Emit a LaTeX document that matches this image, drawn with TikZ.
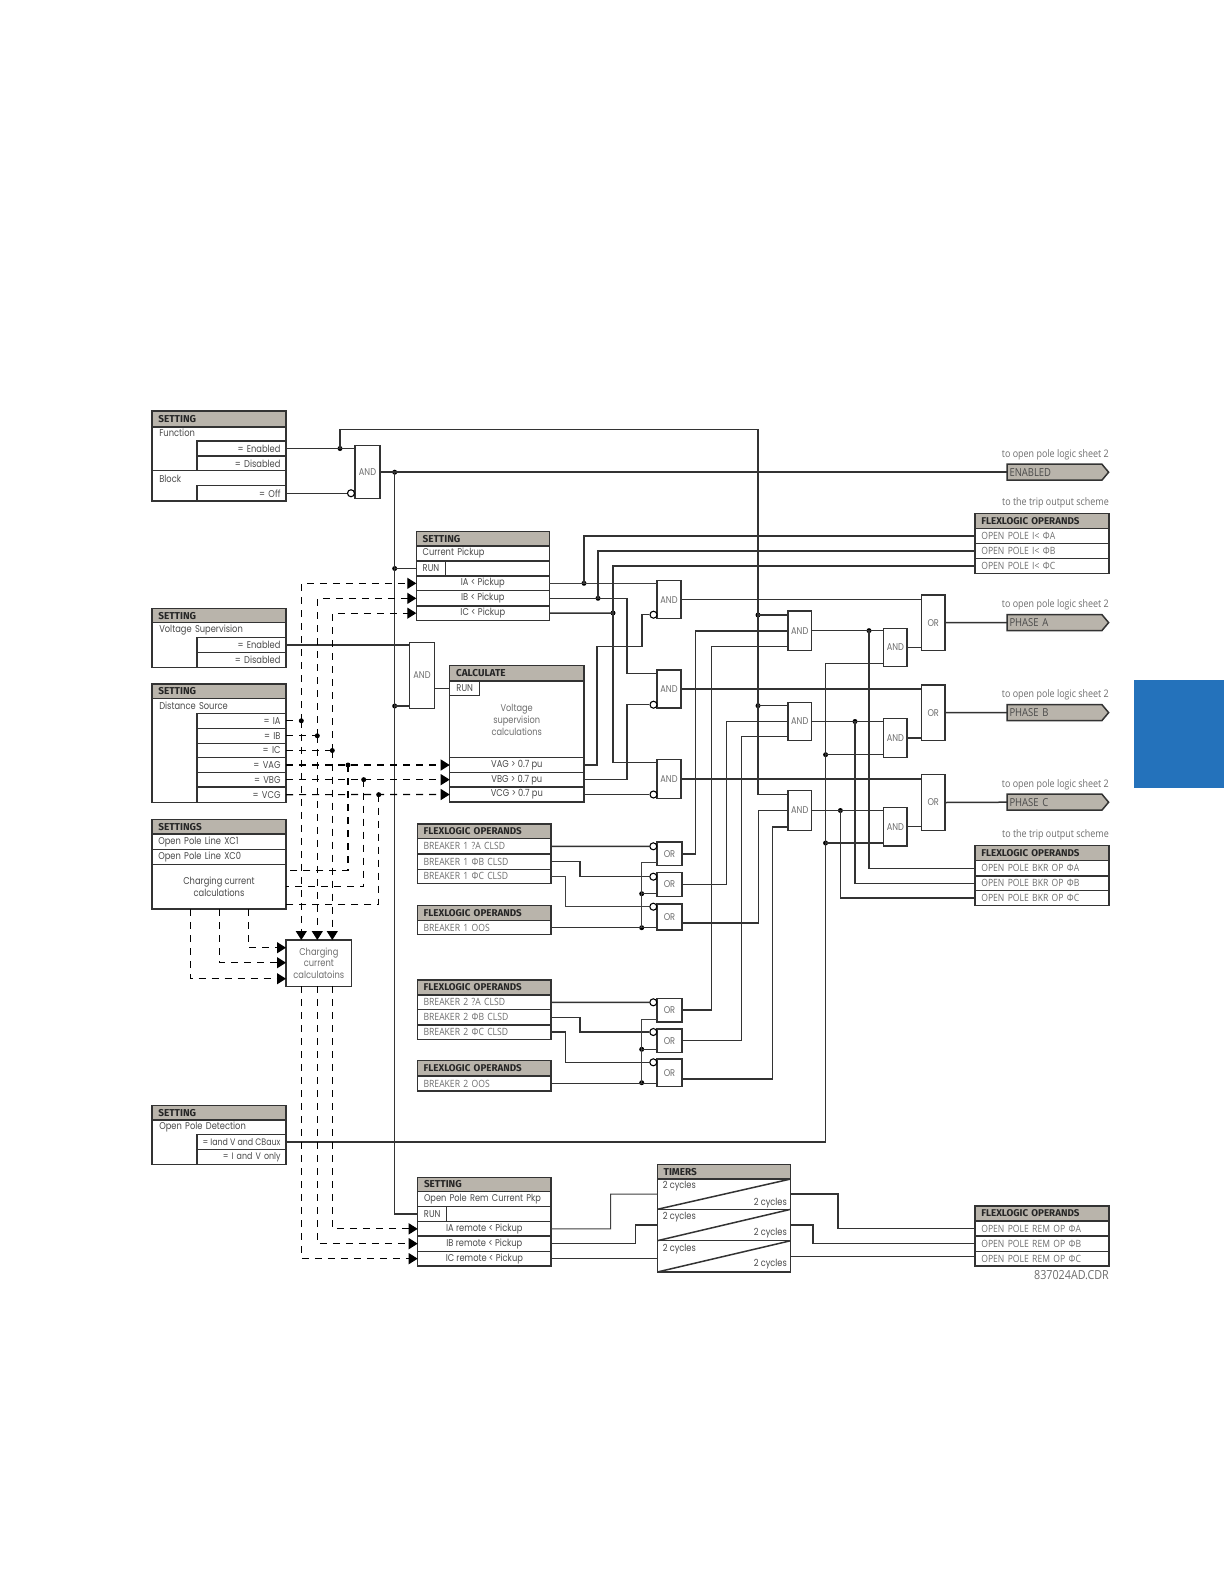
\documentclass[tikz,border=0pt]{standalone}
\usepackage{fontspec}
\setmainfont{Poppins}[FakeStretch=0.84]
\newfontfamily\flfont{Open Sans}[FakeStretch=0.86]
\newfontfamily\hdfont{Fira Sans}[BoldFont={Fira Sans Bold}]
\usetikzlibrary{arrows.meta,shapes.symbols}
\definecolor{hdrtan}{HTML}{B9B4AB}
\definecolor{txtg}{HTML}{4A4A4A}
\definecolor{txtl}{HTML}{6E6E6E}
\definecolor{tabblue}{HTML}{2472BB}
\newcommand{\ncell}[7][]{%
  \pgfmathsetmacro\cw{#5-#3}\pgfmathsetmacro\ch{#6-#4}%
  \pgfmathsetmacro\cxx{(#3+#5)/2}\pgfmathsetmacro\cyy{(#4+#6)/2}%
  \pgfmathsetmacro\ct{\cw-11}%
  \node[cel,minimum width={\cw pt},minimum height={\ch pt},#1] (#2) at (\cxx,\cyy) {#7};}
\tikzset{
  cel/.style={draw=black!80,line width=1.5pt,fill=white,inner sep=0pt,outer sep=0pt,text=txtg,font=\fontsize{9.9}{11.5}\selectfont},
  alignL/.style={text width={\ct pt},align=left,execute at begin node=\hspace*{0.8pt}},
  alignR/.style={text width={\ct pt},align=right},
  alignC/.style={align=center},
  hdrcell/.style={alignL,fill=hdrtan,text=black!85,font=\hdfont\bfseries\fontsize{10}{12}\selectfont},
  flhdr/.style={alignL,fill=hdrtan,text=black!85,font=\hdfont\bfseries\fontsize{9.8}{12}\selectfont},
  flrow/.style={alignL,text=txtl,font=\flfont\fontsize{10}{11}\selectfont},
  gate/.style={alignC,text=txtl,font=\fontsize{9.8}{10}\selectfont},
  wire/.style={draw=black!80,line width=1.5pt,line join=miter},
  thinw/.style={draw=black!75,line width=1pt},
  dashw/.style={draw=black,line width=1.2pt,dash pattern=on 7pt off 6pt},
  dasharrow/.style={dashw,-{Triangle[length=9pt,width=11pt]}},
  dot/.style={circle,fill=black,inner sep=0pt,minimum size=5pt},
  bub/.style={circle,draw=black,fill=white,line width=1.1pt,inner sep=0pt,minimum size=7pt},
  lab/.style={inner sep=0pt,text=txtg,font=\fontsize{9.8}{12}\selectfont},
  flab/.style={inner sep=0pt,anchor=east,text=txtl,font=\flfont\fontsize{10.4}{11}\selectfont},
  tagnode/.style={signal,signal to=east,signal pointer angle=100,draw=black!80,line width=1.5pt,fill=hdrtan,inner sep=0pt,outer sep=0pt,minimum width=101.5pt,minimum height=16pt,text width=90pt,align=left,text=txtg,font=\flfont\fontsize{11}{12}\selectfont},
}
\begin{document}
\begin{tikzpicture}[x=1pt,y=-1pt]
\useasboundingbox (0,0) rectangle (1224,1584);
\fill[white] (0,0) rectangle (1224,1584);
\fill[tabblue] (1134,680) rectangle (1224,788);
% ---------- SETTING function
\ncell[hdrcell]{s1h}{152}{411}{286}{427}{SETTING}
\ncell{s1f}{152}{427}{286}{470.7}{}
\ncell[alignL,draw=none,fill=none]{s1ft}{153}{426.5}{285}{439.5}{Function}
\ncell[alignR]{fEn}{197}{441}{286}{456}{= Enabled}
\ncell[alignR]{fDis}{197}{456}{286}{470.7}{= Disabled}
\ncell{s1b}{152}{470.7}{286}{501}{}
\ncell[alignL,draw=none,fill=none]{s1bt}{153}{472}{285}{486}{Block}
\ncell[alignR]{fOff}{197}{485.5}{286}{501}{= Off}
% ---------- Voltage supervision
\ncell[hdrcell]{s2h}{152}{608.7}{286}{622.7}{SETTING}
\ncell{s2f}{152}{622.7}{286}{667.3}{}
\ncell[alignL,draw=none,fill=none]{s2t}{153}{623.5}{285}{637}{Voltage Supervision}
\ncell[alignR]{vsEn}{197}{637.7}{286}{652.7}{= Enabled}
\ncell[alignR]{vsDis}{197}{652.7}{286}{667.3}{= Disabled}
% ---------- Distance source
\ncell[hdrcell]{s3h}{152}{684}{286}{698.3}{SETTING}
\ncell{s3f}{152}{698.3}{286}{802.3}{}
\ncell[alignL,draw=none,fill=none]{s3t}{153}{699}{285}{713}{Distance Source}
\ncell[alignR]{dIA}{197}{713.3}{286}{728.3}{= IA}
\ncell[alignR]{dIB}{197}{728.3}{286}{743.3}{= IB}
\ncell[alignR]{dIC}{197}{743.3}{286}{757.7}{= IC}
\ncell[alignR]{dVA}{197}{757.7}{286}{772.3}{= VAG}
\ncell[alignR]{dVB}{197}{772.3}{286}{787}{= VBG}
\ncell[alignR]{dVC}{197}{787}{286}{802.3}{= VCG}
% ---------- Settings XC
\ncell[hdrcell]{s4h}{152}{819.7}{286}{834}{SETTINGS}
\ncell[alignL]{s4a}{152}{834}{286}{849.3}{Open Pole Line XC1}
\ncell[alignL]{s4b}{152}{849.3}{286}{864.3}{Open Pole Line XC0}
\ncell[alignC]{s4c}{152}{864.3}{286}{909}{Charging current\\calculations}
% ---------- Charging box
\ncell[alignC,text=txtl]{chg}{286}{940}{351.7}{986.3}{Charging\\current\\calculatoins}
% ---------- Open pole detection
\ncell[hdrcell]{s5h}{152}{1105.3}{286}{1120}{SETTING}
\ncell{s5f}{152}{1120}{286}{1164.3}{}
\ncell[alignL,draw=none,fill=none]{s5t}{153}{1120.5}{285}{1134}{Open Pole Detection}
\ncell[alignC,font=\fontsize{9.4}{11}\selectfont]{oIV}{197}{1134.3}{286}{1149.3}{\makebox[78pt][r]{= Iand V and CBaux}}
\ncell[alignR,font=\fontsize{9.4}{11}\selectfont]{oOnly}{197}{1149.3}{286}{1164.3}{= I and V only}
% ---------- Current pickup
\ncell[hdrcell]{pkh}{416.3}{531.7}{549.3}{546}{SETTING}
\ncell[alignL]{pkt}{416.3}{546}{549.3}{561}{Current Pickup}
\ncell{pkr}{416.3}{561}{549.3}{576}{}
\ncell[alignC]{pkRun}{416.3}{561}{445.7}{576}{RUN}
\ncell[alignC]{pkA}{416.3}{576}{549.3}{590.7}{IA < Pickup}
\ncell[alignC]{pkB}{416.3}{590.7}{549.3}{606}{IB < Pickup}
\ncell[alignC]{pkC}{416.3}{606}{549.3}{620.3}{IC < Pickup}
% ---------- Calculate
\ncell[hdrcell]{vch}{449.7}{665.7}{584}{681}{CALCULATE}
\ncell{vcb}{449.7}{681}{584}{757.7}{}
\node[lab,align=center,text=txtl] (vct) at (516.7,719.5) {Voltage\\supervision\\calculations};
\ncell[alignC]{vcRun}{449.7}{681}{479.7}{695.7}{RUN}
\ncell[alignC]{vA}{449.7}{757.7}{584}{772.3}{VAG > 0.7 pu}
\ncell[alignC]{vB}{449.7}{772.3}{584}{787}{VBG > 0.7 pu}
\ncell[alignC]{vC}{449.7}{787}{584}{802}{VCG > 0.7 pu}
% ---------- Breaker operands
\ncell[flhdr]{b1h}{417.3}{824}{551}{838.7}{FLEXLOGIC OPERANDS}
\ncell[flrow]{b1a}{417.3}{838.7}{551}{854}{BREAKER 1 ?A CLSD}
\ncell[flrow]{b1b}{417.3}{854}{551}{869.3}{BREAKER 1 ΦB CLSD}
\ncell[flrow]{b1c}{417.3}{869.3}{551}{883.3}{BREAKER 1 ΦC CLSD}
\ncell[flhdr]{b1oh}{417.3}{905.7}{551}{920.7}{FLEXLOGIC OPERANDS}
\ncell[flrow]{b1o}{417.3}{920.7}{551}{934.7}{BREAKER 1 OOS}
\ncell[flhdr]{b2h}{417.3}{980}{551}{995}{FLEXLOGIC OPERANDS}
\ncell[flrow]{b2a}{417.3}{995}{551}{1009.7}{BREAKER 2 ?A CLSD}
\ncell[flrow]{b2b}{417.3}{1009.7}{551}{1025}{BREAKER 2 ΦB CLSD}
\ncell[flrow]{b2c}{417.3}{1025}{551}{1039.3}{BREAKER 2 ΦC CLSD}
\ncell[flhdr]{b2oh}{417.3}{1060.7}{551}{1076}{FLEXLOGIC OPERANDS}
\ncell[flrow]{b2o}{417.3}{1076}{551}{1091}{BREAKER 2 OOS}
% ---------- Rem current
\ncell[hdrcell]{rmh}{417.7}{1177.3}{551}{1191.7}{SETTING}
\ncell[alignL,font=\fontsize{9.8}{11}\selectfont]{rmt}{417.7}{1191.7}{551}{1206.7}{Open Pole Rem Current Pkp}
\ncell{rmr}{417.7}{1206.7}{551}{1221.7}{}
\ncell[alignC]{rmRun}{417.7}{1206.7}{446.7}{1221.7}{RUN}
\ncell[alignC]{rmA}{417.7}{1221.7}{551}{1236}{IA remote < Pickup}
\ncell[alignC]{rmB}{417.7}{1236}{551}{1251.3}{IB remote < Pickup}
\ncell[alignC]{rmC}{417.7}{1251.3}{551}{1266}{IC remote < Pickup}
% ---------- Timers
\ncell[hdrcell]{tmh}{657.3}{1164.3}{790.7}{1179}{TIMERS}
\ncell{tm1}{657.3}{1179}{790.7}{1209.3}{}
\ncell{tm2}{657.3}{1209.3}{790.7}{1240.7}{}
\ncell{tm3}{657.3}{1240.7}{790.7}{1272}{}
\foreach \n in {tm1,tm2,tm3}{\draw[wire] (\n.south west) -- (\n.north east);}
\node[lab,anchor=west] (tl1) at (662.7,1186) {2 cycles};
\node[lab,anchor=east] (tr1) at (787,1202.7) {2 cycles};
\node[lab,anchor=west] (tl2) at (662.7,1217) {2 cycles};
\node[lab,anchor=east] (tr2) at (787,1233) {2 cycles};
\node[lab,anchor=west] (tl3) at (662.7,1248.7) {2 cycles};
\node[lab,anchor=east] (tr3) at (787,1264.3) {2 cycles};
% ---------- Right-hand operands
\ncell[flhdr]{ol1h}{975}{513.3}{1109}{528.7}{FLEXLOGIC OPERANDS}
\ncell[flrow]{olA}{975}{528.7}{1109}{543.7}{OPEN POLE I< ΦA}
\ncell[flrow]{olB}{975}{543.7}{1109}{558.7}{OPEN POLE I< ΦB}
\ncell[flrow]{olC}{975}{558.7}{1109}{573.7}{OPEN POLE I< ΦC}
\ncell[flhdr]{ol2h}{975}{845.7}{1109}{860.7}{FLEXLOGIC OPERANDS}
\ncell[flrow]{okA}{975}{860.7}{1109}{876}{OPEN POLE BKR OP ΦA}
\ncell[flrow]{okB}{975}{876}{1109}{890.7}{OPEN POLE BKR OP ΦB}
\ncell[flrow]{okC}{975}{890.7}{1109}{905.7}{OPEN POLE BKR OP ΦC}
\ncell[flhdr]{ol3h}{975}{1206}{1109}{1221}{FLEXLOGIC OPERANDS}
\ncell[flrow]{orA}{975}{1221}{1109}{1236}{OPEN POLE REM OP ΦA}
\ncell[flrow]{orB}{975}{1236}{1109}{1251.3}{OPEN POLE REM OP ΦB}
\ncell[flrow]{orC}{975}{1251.3}{1109}{1266}{OPEN POLE REM OP ΦC}
\node[flab,font=\flfont\fontsize{12.5}{13}\selectfont] (cdr) at (1109,1275) {837024AD.CDR};
% ---------- Tags and their captions
\node[tagnode] (tagE) at (1054.5,472.2) {ENABLED};
\node[tagnode] (tagA) at (1054.5,622.6) {PHASE A};
\node[tagnode] (tagB) at (1054.5,712.6) {PHASE B};
\node[tagnode] (tagC) at (1054.5,802.2) {PHASE C};
\node[flab] (capE) at (1109,454.5) {to open pole logic sheet 2};
\node[flab] (capT) at (1109,503) {to the trip output scheme};
\node[flab] (capA) at (1109,604.5) {to open pole logic sheet 2};
\node[flab] (capB) at (1109,695) {to open pole logic sheet 2};
\node[flab] (capC) at (1109,784.5) {to open pole logic sheet 2};
\node[flab] (capU) at (1109,834.5) {to the trip output scheme};
% ---------- Gates
\ncell[gate]{and1}{355}{445.7}{380}{498.7}{AND}
\ncell[gate]{andV}{409.7}{642.3}{434.3}{708.3}{AND}
\ncell[gate]{gA}{657}{580.7}{681}{618.7}{AND}
\ncell[gate]{gB}{657}{670}{681}{708}{AND}
\ncell[gate]{gC}{657}{759.7}{681}{798.3}{AND}
\ncell[gate]{ta1}{788}{611}{811.5}{650.3}{AND}
\ncell[gate]{ta2}{788}{702.3}{811.5}{740.7}{AND}
\ncell[gate]{ta3}{788}{790.7}{811.5}{830.3}{AND}
\ncell[gate]{tb1}{883.7}{628.3}{907}{666.7}{AND}
\ncell[gate]{tb2}{883.7}{718.7}{907}{757.3}{AND}
\ncell[gate]{tb3}{883.7}{807.3}{907}{846}{AND}
\ncell[gate]{or1}{921.5}{595}{945}{650.3}{OR}
\ncell[gate]{or2}{921.5}{685}{945}{740.3}{OR}
\ncell[gate]{or3}{921.5}{774.7}{945}{830.3}{OR}
\ncell[gate]{ora}{657}{842}{682}{865.7}{OR}
\ncell[gate]{orb}{657}{872.7}{682}{896.3}{OR}
\ncell[gate]{orc}{657}{904}{682}{930}{OR}
\ncell[gate]{ord}{657}{998.3}{682}{1022}{OR}
\ncell[gate]{ore}{657}{1029}{682}{1052.3}{OR}
\ncell[gate]{orf}{657}{1059}{682}{1086.7}{OR}
% ---------- Inversion bubbles
\node[bub] (bOff) at (351,493.25) {};
\node[bub] (bA) at (653.5,614.7) {};
\node[bub] (bB) at (653.5,704.7) {};
\node[bub] (bC) at (653.5,794.5) {};
\node[bub] (ba) at (653.3,846.3) {};
\node[bub] (bb) at (653.3,876.7) {};
\node[bub] (bc) at (653.3,906.7) {};
\node[bub] (bd) at (653.3,1002.3) {};
\node[bub] (be) at (653.3,1032) {};
\node[bub] (bf) at (653.3,1062.3) {};
% ---------- Junctions
\node[dot] (jEn) at (340,448.5) {};
\node[dot] (jOut) at (394.7,472.2) {};
\node[dot] (jRun) at (394.7,568.5) {};
\node[dot] (jV) at (394.7,706) {};
\node[dot] (jA) at (584,583.3) {};
\node[dot] (jB) at (598,598.3) {};
\node[dot] (jC) at (613,613) {};
\node[dot] (j1) at (758,615) {};
\node[dot] (j2) at (758,705.7) {};
\node[dot] (jt1) at (869,630.65) {};
\node[dot] (jt2) at (855,721.5) {};
\node[dot] (jt3) at (840.4,810.5) {};
\node[dot] (jm2) at (825.6,754.7) {};
\node[dot] (jm3) at (825.6,843) {};
\node[dot] (jo1) at (641.7,893.7) {};
\node[dot] (jo2) at (641.7,927.7) {};
\node[dot] (jo3) at (641.7,1049.3) {};
\node[dot] (jo4) at (641.7,1082.7) {};
\node[dot] (dj1) at (301.3,720.8) {};
\node[dot] (dj2) at (317.3,735.8) {};
\node[dot] (dj3) at (332.3,750.5) {};
\node[dot] (dj4) at (348,765) {};
\node[dot] (dj5) at (363.7,779.65) {};
\node[dot] (dj6) at (378.7,794.65) {};
% ---------- Solid connectors
\draw[wire] (fEn.east) -- (and1.west |- fEn.east);
\draw[wire] (jEn.center) |- (758,429.7) -- (758,794.7) -- (ta3.west |- 0,794.7);
\draw[wire] (fOff.east) -- (bOff.west);
\draw[wire] (and1.east) -- (tagE.west);
\draw[wire] (jOut.center) |- (rmRun.west);
\draw[wire] (jRun.center) -- (pkRun.west);
\draw[wire] (jV.center) -- (andV.west |- jV.center);
\draw[wire] (vsEn.east) -- (andV.west |- vsEn.east);
\draw[wire] (andV.east |- vcRun.west) -- (vcRun.west);
\draw[thinw] (pkA.east) -- (gA.west |- pkA.east);
\draw[wire] (jA.center) |- (olA.west);
\draw[wire] (pkB.east) -| (627,673.3) -- (gB.west |- 0,673.3);
\draw[wire] (jB.center) |- (olB.west);
\draw[wire] (pkC.east) -- (jC.center);
\draw[wire] (jC.center) |- (olC.west);
\draw[wire] (jC.center) |- (gC.west |- 0,762.7);
\draw[wire] (vA.east) -| (597,646.7) -- (642,646.7) |- (bA.west);
\draw[wire] (vB.east) -| (627,704.7) -- (bB.west);
\draw[wire] (vC.east) -- (bC.west);
\draw[wire] (gA.east) -- (or1.west |- gA.east);
\draw[wire] (gB.east) -- (or2.west |- gB.east);
\draw[wire] (gC.east) -- (or3.west |- gC.east);
\draw[wire] (or1.east) -- (tagA.west);
\draw[wire] (or2.east) -- (tagB.west);
\draw[wire] (or3.east) -- (tagC.west);
\draw[wire] (ta1.east) -- (tb1.west |- ta1.east);
\draw[wire] (ta2.east) -- (tb2.west |- ta2.east);
\draw[wire] (ta3.east) -- (tb3.west |- ta3.east);
\draw[wire] (tb1.east) -- (or1.west |- tb1.east);
\draw[wire] (tb2.east) -- (or2.west |- tb2.east);
\draw[wire] (tb3.east) -- (or3.west |- tb3.east);
\draw[wire] (jt1.center) |- (okA.west);
\draw[wire] (jt2.center) |- (okB.west);
\draw[wire] (jt3.center) |- (okC.west);
\draw[wire] (j1.center) -- (ta1.west |- j1.center);
\draw[wire] (j2.center) -- (ta2.west |- j2.center);
\draw[wire] (oIV.east) -| (825.6,663.3) -- (tb1.west |- 0,663.3);
\draw[wire] (jm2.center) -- (tb2.west |- jm2.center);
\draw[wire] (jm3.center) -- (tb3.west |- jm3.center);
\draw[wire] (ora.east) -| (695.3,631) -- (ta1.west |- 0,631);
\draw[wire] (ord.east) -| (711.7,646.3) -- (ta1.west |- 0,646.3);
\draw[wire] (orb.east) -| (726.7,721.5) -- (ta2.west |- 0,721.5);
\draw[wire] (ore.east) -| (741.7,736.7) -- (ta2.west |- 0,736.7);
\draw[wire] (orc.east |- 0,923) -| (758.3,810.5) -- (ta3.west |- 0,810.5);
\draw[wire] (orf.east |- 0,1079) -| (772.7,827) -- (ta3.west |- 0,827);
\draw[wire] (b1a.east) -- (ba.west);
\draw[wire] (b1b.east) -| (580,876.7) -- (bb.west);
\draw[thinw] (b1c.east) -| (565.7,906.7) -- (bc.west);
\draw[wire] (b1o.east) -- (orc.west |- b1o.east);
\draw[thinw] (jo2.center) |- (ora.west |- 0,862.7);
\draw[wire] (jo1.center) -- (orb.west |- jo1.center);
\draw[wire] (b2a.east) -- (bd.west);
\draw[wire] (b2b.east) -| (580,1032) -- (be.west);
\draw[wire] (b2c.east) -| (565.7,1062.3) -- (bf.west);
\draw[wire] (b2o.east) -- (orf.west |- b2o.east);
\draw[thinw] (jo4.center) |- (ord.west |- 0,1019);
\draw[wire] (jo3.center) -- (ore.west |- jo3.center);
\draw[thinw] (rmA.east) -| (610.7,1194.2) -- (tm1.west);
\draw[wire] (rmB.east) -| (635.7,1225) -- (tm2.west);
\draw[wire] (rmC.east) -- (tm3.west |- rmC.east);
\draw[wire] (tm1.east) -| (838,1228.5) -- (orA.west);
\draw[wire] (tm2.east) -| (813,1243.65) -- (orB.west);
\draw[wire] (tm3.east) -- (orC.west |- tm3.east);
% ---------- Dashed connectors
\draw[dashw] (dIA.east) -- (dj1.center);
\draw[dashw] (dIB.east) -- (dj2.center);
\draw[dashw] (dIC.east) -- (dj3.center);
\draw[dasharrow] (dVA.east) -- (vA.west);
\draw[dasharrow] (dVB.east) -- (vB.west);
\draw[dasharrow] (dVC.east) -- (vC.west);
\draw[dasharrow] (dj1.center) |- (pkA.west);
\draw[dasharrow] (dj2.center) |- (pkB.west);
\draw[dasharrow] (dj3.center) |- (pkC.west);
\draw[dasharrow] (dj1.center) -- (chg.north -| dj1.center);
\draw[dasharrow] (dj2.center) -- (chg.north -| dj2.center);
\draw[dasharrow] (dj3.center) -- (chg.north -| dj3.center);
\draw[dashw] (dj4.center) |- (s4c.east |- 0,870.3);
\draw[dashw] (dj5.center) |- (s4c.east |- 0,886.7);
\draw[dashw] (dj6.center) |- (s4c.east |- 0,904.3);
\draw[dasharrow] (s4c.south -| 248.7,0) |- (chg.west |- 0,947.7);
\draw[dasharrow] (s4c.south -| 219.7,0) |- (chg.west |- 0,962.7);
\draw[dasharrow] (s4c.south -| 190.3,0) |- (chg.west |- 0,978.7);
\draw[dasharrow] (chg.south -| 332.3,0) |- (rmA.west);
\draw[dasharrow] (chg.south -| 317.3,0) |- (rmB.west);
\draw[dasharrow] (chg.south -| 301.3,0) |- (rmC.west);
\end{tikzpicture}
\end{document}
